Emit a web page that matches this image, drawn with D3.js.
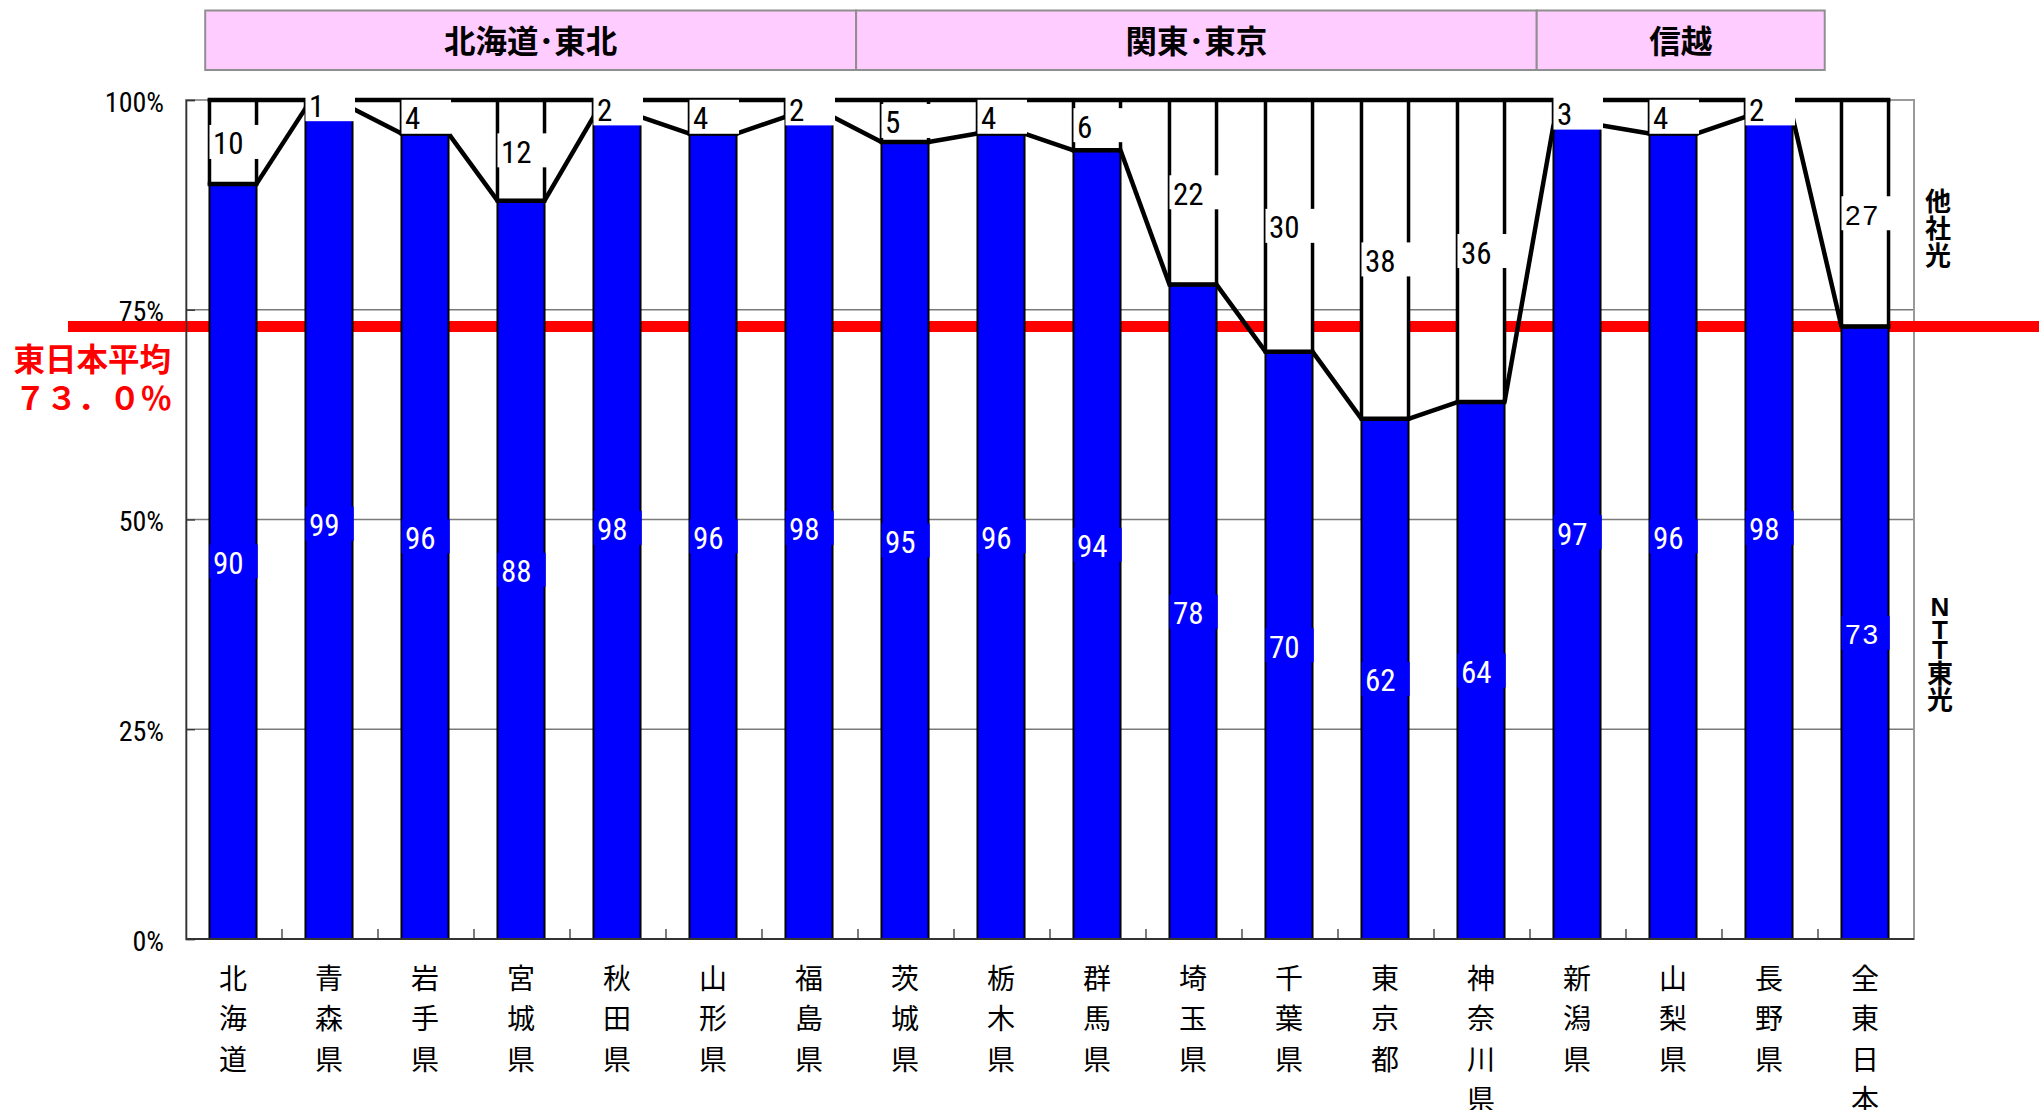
<!DOCTYPE html>
<html>
<head>
<meta charset="utf-8">
<script src="https://cdn.jsdelivr.net/npm/d3@7"></script>
<style>
  html, body { margin: 0; padding: 0; background: #fff; }
  svg { display: block; }
</style>
</head>
<body>
<svg id="chart" width="2039" height="1110"></svg>
<script>
// Prefecture names (drawn vertically under each bar)
const categories = ["北海道", "青森県", "岩手県", "宮城県", "秋田県", "山形県", "福島県",
  "茨城県", "栃木県", "群馬県", "埼玉県", "千葉県", "東京都", "神奈川県",
  "新潟県", "山梨県", "長野県", "全東日本"];

// Share of fibre subscribers (%): NTT East vs other carriers
const nttShare   = [90, 99, 96, 88, 98, 96, 98, 95, 96, 94, 78, 70, 62, 64, 97, 96, 98, 73];
const otherShare = [10,  1,  4, 12,  2,  4,  2,  5,  4,  6, 22, 30, 38, 36,  3,  4,  2, 27];

// Regional groupings shown in the header row
const groupNames = ["北海道･東北", "関東･東京", "信越"];
const groupFirst = [0, 7, 14];
const groupLast  = [6, 13, 16];

// Y axis ticks (percent)
const yTicks = [0, 25, 50, 75, 100];

// East Japan average share
const eastAverage = 73.0;
const averageTitle = "東日本平均";
const averageValue = "７３．０％";

// Series names on the right
const seriesOther = "他社光";
const seriesNtt = ["N", "T", "T", "東", "光"];

(function draw() {
  const svg = d3.select("#chart");
  const W = 2039;
  const plotL = 186, plotR = 1914, plotT = 100, plotB = 939;

  const x = d3.scaleBand()
    .domain(categories)
    .range([plotL, plotR])
    .paddingInner(0.51)
    .paddingOuter(0.255);
  const step = x.step();
  const y = d3.scaleLinear().domain([0, 100]).range([plotB, plotT]);

  const narrow = "'Liberation Sans Narrow', 'Arial Narrow', 'Roboto Condensed', sans-serif";
  const cjk = "'Noto Sans CJK JP', 'Noto Sans CJK SC', sans-serif";

  const rows = categories.map((c, i) => ({ name: c, ntt: nttShare[i], other: otherShare[i] }));
  const stacked = d3.stack().keys(["ntt", "other"])(rows);

  // Header boxes for the regions (edges in category-step units)
  const groupEdges = [0.2, 6.98, 14.07, 17.07];
  const header = svg.append("g");
  groupNames.forEach((g, k) => {
    const x0 = plotL + step * groupEdges[k];
    const x1 = plotL + step * groupEdges[k + 1];
    header.append("rect")
      .attr("x", x0).attr("y", 10.5)
      .attr("width", x1 - x0).attr("height", 59.5)
      .attr("fill", "#FFCCFF").attr("stroke", "#8f8f8f").attr("stroke-width", 2);
    header.append("text")
      .attr("x", (x0 + x1) / 2).attr("y", 38.5)
      .attr("text-anchor", "middle").attr("dominant-baseline", "central")
      .attr("font-family", cjk).attr("font-weight", 700).attr("font-size", 31.5)
      .attr("fill", "#000").text(g);
  });

  // Gridlines
  svg.append("g").selectAll("line").data(yTicks.filter(t => t > 0)).join("line")
    .attr("x1", plotL).attr("x2", plotR)
    .attr("y1", d => y(d)).attr("y2", d => y(d))
    .attr("stroke", "#7a7a7a").attr("stroke-width", 1.3);

  // Plot area border
  svg.append("rect")
    .attr("x", plotL).attr("y", plotT).attr("width", plotR - plotL).attr("height", plotB - plotT)
    .attr("fill", "none").attr("stroke", "#9a9a9a").attr("stroke-width", 2);

  // East Japan average line (behind the bars)
  svg.append("line")
    .attr("x1", 68).attr("x2", W)
    .attr("y1", y(eastAverage)).attr("y2", y(eastAverage))
    .attr("stroke", "#FF0000").attr("stroke-width", 11);

  // Average label
  svg.append("text")
    .attr("x", 171).attr("y", y(eastAverage) + 30)
    .attr("text-anchor", "end").attr("dominant-baseline", "central")
    .attr("font-family", cjk).attr("font-weight", 700).attr("font-size", 31.5)
    .attr("fill", "#FF0000").text(averageTitle);
  svg.append("text")
    .attr("x", 172).attr("y", y(eastAverage) + 69)
    .attr("text-anchor", "end").attr("dominant-baseline", "central")
    .attr("font-family", cjk).attr("font-weight", 700).attr("font-size", 31.5)
    .attr("fill", "#FF0000").text(averageValue);

  // Y axis
  const yAxis = d3.axisRight(y).tickValues(yTicks).tickSize(9).tickFormat("");
  const ya = svg.append("g").attr("transform", `translate(${plotL},0)`).call(yAxis);
  ya.select(".domain").attr("stroke", "#333").attr("stroke-width", 1.6);
  ya.selectAll(".tick line").attr("stroke", "#333").attr("stroke-width", 1.3);
  svg.append("g").selectAll("text").data(yTicks).join("text")
    .attr("x", 164).attr("y", d => y(d) + 2)
    .attr("text-anchor", "end").attr("dominant-baseline", "central")
    .attr("font-family", narrow).attr("font-size", 28).attr("fill", "#000")
    .text(d => d + "%");

  // Bars: NTT (blue) and others (white)
  const segColors = ["#0000FF", "#FFFFFF"];
  const bw = x.bandwidth();
  stacked.forEach((layer, li) => {
    svg.append("g").selectAll("rect").data(layer).join("rect")
      .attr("x", d => x(d.data.name) - 1)
      .attr("y", d => y(d[1]))
      .attr("width", bw)
      .attr("height", d => y(d[0]) - y(d[1]))
      .attr("fill", segColors[li])
      .attr("stroke", "#000")
      .attr("stroke-width", li === 0 ? 2 : 3.5);
  });

  // Thick top edge of the blue bars
  svg.append("g").selectAll("line").data(rows).join("line")
    .attr("x1", d => x(d.name) - 2.75).attr("x2", d => x(d.name) + bw + 0.75)
    .attr("y1", d => y(d.ntt)).attr("y2", d => y(d.ntt))
    .attr("stroke", "#000").attr("stroke-width", 4.5);

  // X axis with ticks between categories
  svg.append("line")
    .attr("x1", plotL).attr("x2", plotR).attr("y1", plotB).attr("y2", plotB)
    .attr("stroke", "#333").attr("stroke-width", 2);
  svg.append("g").selectAll("line").data(d3.range(1, categories.length)).join("line")
    .attr("x1", i => plotL + step * i).attr("x2", i => plotL + step * i)
    .attr("y1", plotB).attr("y2", plotB - 10)
    .attr("stroke", "#333").attr("stroke-width", 1.3);

  // Series lines joining neighbouring bars
  const lineGen = d3.line();
  rows.forEach((d, i) => {
    if (i === rows.length - 1) return;
    const n = rows[i + 1];
    svg.append("path")
      .attr("d", lineGen([[x(d.name) - 1 + bw, y(d.ntt)], [x(n.name) - 1, y(n.ntt)]]))
      .attr("fill", "none").attr("stroke", "#000").attr("stroke-width", 4.5);
  });
  svg.append("line")
    .attr("x1", x(categories[0]) - 2.75)
    .attr("x2", x(categories[categories.length - 1]) + bw + 0.75)
    .attr("y1", y(100)).attr("y2", y(100))
    .attr("stroke", "#000").attr("stroke-width", 4.5);

  // Data labels with background boxes
  const lblH = 34;
  stacked.forEach((layer, li) => {
    const g = svg.append("g");
    layer.forEach((d, i) => {
      const cy = y((d[0] + d[1]) / 2);
      const bx = x(d.data.name) - 1;
      const last = i === rows.length - 1;
      g.append("rect")
        .attr("x", bx).attr("y", cy - lblH / 2)
        .attr("width", bw + (li === 0 ? 1.2 : 2.5)).attr("height", lblH)
        .attr("fill", segColors[li]);
      g.append("text")
        .attr("x", bx + 3.5).attr("y", cy + 2)
        .attr("dominant-baseline", "central")
        .attr("font-family", last ? "'Liberation Sans', Arial, sans-serif" : narrow)
        .attr("font-size", last ? 28 : 31)
        .attr("letter-spacing", last ? 2 : 0)
        .attr("fill", li === 0 ? "#FFFFFF" : "#000000")
        .text(d[1] - d[0]);
    });
  });

  // Category labels, one character per line
  const catG = svg.append("g");
  categories.forEach(c => {
    Array.from(c).forEach((ch, k) => {
      catG.append("text")
        .attr("x", x(c) - 1 + bw / 2).attr("y", 977 + k * 40.3)
        .attr("text-anchor", "middle").attr("dominant-baseline", "central")
        .attr("font-family", cjk).attr("font-size", 28).attr("fill", "#000")
        .text(ch);
    });
  });

  // Series names on the right
  const rx = 1938;
  Array.from(seriesOther).forEach((ch, k) => {
    svg.append("text")
      .attr("x", rx).attr("y", 199 + k * 27)
      .attr("text-anchor", "middle").attr("dominant-baseline", "central")
      .attr("font-family", cjk).attr("font-weight", 700).attr("font-size", 26)
      .attr("fill", "#000").text(ch);
  });
  const nttY = [607, 630, 650, 671, 697];
  seriesNtt.forEach((ch, k) => {
    svg.append("text")
      .attr("x", rx + 2).attr("y", nttY[k])
      .attr("text-anchor", "middle").attr("dominant-baseline", "central")
      .attr("font-family", k < 3 ? "'Liberation Sans', Arial, sans-serif" : cjk)
      .attr("font-weight", 700).attr("font-size", k < 3 ? 26 : 26)
      .attr("fill", "#000").text(ch);
  });
})();
</script>
</body>
</html>
